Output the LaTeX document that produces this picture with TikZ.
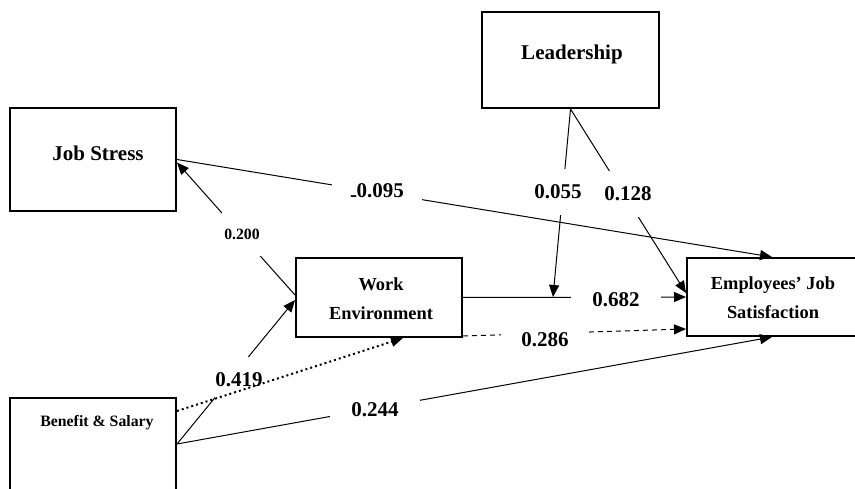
\documentclass[tikz,border=0pt]{standalone}
\usepackage{fontspec}
\setmainfont{Liberation Serif}
\usetikzlibrary{arrows.meta}
\begin{document}
\begin{tikzpicture}[x=1pt,y=-1pt,
  box/.style={draw,line width=2pt,inner sep=0pt},
  ttl/.style={inner sep=0pt,align=center},
  big/.style={font=\bfseries\fontsize{21}{25}\selectfont},
  mid/.style={font=\bfseries\fontsize{18.4}{29}\selectfont},
  conn/.style={line width=1pt,-{Triangle[length=12pt,width=10pt]}},
  plain/.style={line width=1pt},
  lbl/.style={fill=white,inner sep=0pt,font=\bfseries\fontsize{21}{25}\selectfont},
  hlbl/.style={lbl,minimum width=90pt,minimum height=20pt},
  vlbl/.style={lbl,minimum width=50pt,minimum height=46pt}]
\clip (0,0) rectangle (855,489);
\fill[white] (0,0) rectangle (855,489);

% boxes
\node[box,minimum width=166pt,minimum height=103pt] (js) at (93,159.5) {};
\node[box,minimum width=177pt,minimum height=96pt] (ld) at (570.5,60) {};
\node[box,minimum width=166pt,minimum height=79pt] (we) at (379,297.5) {};
\node[box,minimum width=170pt,minimum height=78pt] (ejs) at (772,297) {};
\node[box,minimum width=166pt,minimum height=104pt] (bs) at (93,450) {};

% titles
\node[ttl,big] (jst) at (98,153) {Job Stress};
\node[ttl,big] (ldt) at (572,54) {Leadership};
\node[ttl,mid] (wet) at (381,299) {Work\\Environment};
\node[ttl,mid] (ejst) at (773,298) {Employees’ Job\\Satisfaction};
\node[ttl,font=\bfseries\fontsize{15.8}{19}\selectfont] (bst) at (97,423) {Benefit \& Salary};

\coordinate (mod) at (553,297);

% connectors
\draw[conn] (js.east) -- (ejs.north);
\draw[conn] ([yshift=2.5pt]we.west) -- ([yshift=-3pt]js.east);
\draw[conn] ([yshift=6pt]bs.east) -- ([yshift=-2.5pt]we.west);
\draw[conn] ([yshift=6pt]bs.east) -- (ejs.south);
\draw[conn] (we.east) -- (ejs.west);
\draw[conn] (ld.south) -- (mod);
\draw[conn] (ld.south) -- ([yshift=4pt]ejs.west);
\draw[conn,dash pattern=on 5pt off 4pt] ([yshift=2pt]we.south east) -- ([yshift=-32pt]ejs.west);

% labels
\node[hlbl] (l095) at (377,193) {\raisebox{-4pt}{-}\kern-0.5pt 0.095};
\node[lbl,minimum width=40pt,minimum height=45pt,font=\bfseries\fontsize{15.7}{19}\selectfont] (l200) at (242,234) {0.200};
\node[lbl,minimum width=48pt,minimum height=46pt] (l419) at (239,380) {0.419};
\node[hlbl] (l244) at (375,410) {0.244};
\node[hlbl] (l682) at (616,300) {0.682};
\node[hlbl,minimum width=88pt] (l286) at (545,340) {0.286};
\node[vlbl] (l055) at (558,192) {0.055};
\node[vlbl] (l128) at (628,194) {0.128};

% dotted connector drawn over the 0.419 label
\draw[line width=2pt,dash pattern=on 2pt off 3pt,-{Triangle[length=12pt,width=10pt]}]
  ([yshift=-14pt]bs.north east) -- ([xshift=24pt]we.south);
\end{tikzpicture}
\end{document}
